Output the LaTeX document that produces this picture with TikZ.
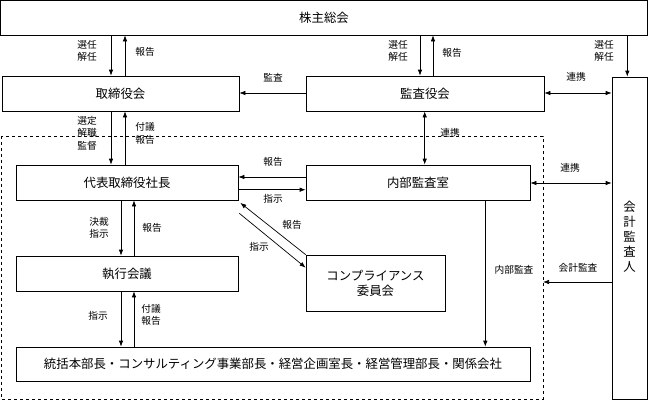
\documentclass[tikz,border=0pt]{standalone}
\usepackage{fontspec}
\setmainfont{Noto Sans CJK JP}
\usetikzlibrary{arrows.meta}
\begin{document}
\begin{tikzpicture}[x=1pt,y=-1pt,
  box/.style={draw=black,line width=0.7pt,inner sep=0pt,font=\fontsize{12.4}{14}\selectfont,align=center},
  arr/.style={line width=0.7pt,-{Latex[length=6pt,width=4.5pt]}},
  darr/.style={line width=0.7pt,{Latex[length=6pt,width=4.5pt]}-{Latex[length=6pt,width=4.5pt]}},
  lbl/.style={inner sep=0pt,font=\fontsize{9.7}{12.5}\selectfont,align=center}]
\useasboundingbox (0,0) rectangle (648,400);
% dashed area
\draw[dashed,line width=0.7pt] (1,136) rectangle (543,399);
% boxes
\node[box,minimum width=647pt,minimum height=34.5pt] (kabu) at (324,17.75) {株主総会};
\node[box,minimum width=237pt,minimum height=35pt] (tori) at (120.5,93.5) {取締役会};
\node[box,minimum width=238pt,minimum height=35pt] (kansa) at (425,93.5) {監査役会};
\node[box,minimum width=35pt,minimum height=322pt] (kaikei) at (629.5,238) {};
\node[box,draw=none,font=\fontsize{12.4}{15}\selectfont] (kaikeit) at (629.5,237) {会\\計\\監\\査\\人};
\node[box,minimum width=222pt,minimum height=35pt] (daihyo) at (127,182.5) {代表取締役社長};
\node[box,minimum width=224pt,minimum height=35pt] (naibu) at (418,182.5) {内部監査室};
\node[box,minimum width=222pt,minimum height=35pt] (shikko) at (127,273.5) {執行会議};
\node[box,minimum width=139pt,minimum height=56pt,font=\fontsize{12.4}{15}\selectfont] (comp) at (375.5,283) {コンプライアンス\\委員会};
\node[box,minimum width=514pt,minimum height=34pt] (tokatsu) at (273,364) {統括本部長・コンサルティング事業部長・経営企画室長・経営管理部長・関係会社};
% helper coordinates
\coordinate (x111) at (111,0);
\coordinate (x125) at (125,0);
\coordinate (x420) at (420,0);
\coordinate (x433) at (433,0);
\coordinate (x627) at (627.3,0);
\coordinate (x425) at (424.7,0);
\coordinate (x121) at (121,0);
\coordinate (x134) at (134,0);
\coordinate (x485) at (485.3,0);
\coordinate (y93) at (0,93);
\coordinate (y177) at (0,177);
\coordinate (y190) at (0,189.7);
\coordinate (y183) at (0,183);
\coordinate (y282) at (0,282);
\coordinate (dashR) at (543,282);
% connectors
\draw[arr] (kabu.south -| x111) -- (tori.north -| x111);
\draw[arr] (tori.north -| x125) -- (kabu.south -| x125);
\draw[arr] (kabu.south -| x420) -- (kansa.north -| x420);
\draw[arr] (kansa.north -| x433) -- (kabu.south -| x433);
\draw[arr] (kabu.south -| x627) -- (kaikei.north -| x627);
\draw[arr] (kansa.west |- y93) -- (tori.east |- y93);
\draw[darr] (kansa.east |- y93) -- (kaikei.west |- y93);
\draw[arr] (tori.south -| x111) -- (daihyo.north -| x111);
\draw[arr] (daihyo.north -| x125) -- (tori.south -| x125);
\draw[darr] (kansa.south -| x425) -- (naibu.north -| x425);
\draw[arr] (naibu.west |- y177) -- (daihyo.east |- y177);
\draw[arr] (daihyo.east |- y190) -- (naibu.west |- y190);
\draw[darr] (naibu.east |- y183) -- (kaikei.west |- y183);
\draw[arr] (daihyo.south -| x121) -- (shikko.north -| x121);
\draw[arr] (shikko.north -| x134) -- (daihyo.south -| x134);
\draw[arr] (shikko.south -| x121) -- (tokatsu.north -| x121);
\draw[arr] (tokatsu.north -| x134) -- (shikko.south -| x134);
\draw[arr] (comp.north west) -- ([shift={(2,2.5)}]daihyo.south east);
\draw[arr] ([shift={(1,13)}]daihyo.south east) -- ([shift={(0,13)}]comp.north west);
\draw[arr] (naibu.south -| x485) -- (tokatsu.north -| x485);
\draw[arr] (kaikei.west |- y282) -- (dashR);
% labels
\node[lbl] (l1) at (87,51) {選任\\解任};
\node[lbl] (l2) at (145,52) {報告};
\node[lbl] (l3) at (398,51) {選任\\解任};
\node[lbl] (l4) at (452,53) {報告};
\node[lbl] (l5) at (604,51) {選任\\解任};
\node[lbl] (l6) at (273,78) {監査};
\node[lbl] (l7) at (576,77) {連携};
\node[lbl] (l8) at (87,133) {選定\\解職\\監督};
\node[lbl] (l9) at (145,133.5) {付議\\報告};
\node[lbl] (l10) at (450,133) {連携};
\node[lbl] (l11) at (273,162) {報告};
\node[lbl] (l12) at (273,199) {指示};
\node[lbl] (l13) at (570,168) {連携};
\node[lbl] (l14) at (99,228) {決裁\\指示};
\node[lbl] (l15) at (152,228) {報告};
\node[lbl] (l16) at (292,225) {報告};
\node[lbl] (l17) at (259,247) {指示};
\node[lbl] (l18) at (98,316) {指示};
\node[lbl] (l19) at (151,315) {付議\\報告};
\node[lbl] (l20) at (514,270) {内部監査};
\node[lbl] (l21) at (578,268) {会計監査};
\end{tikzpicture}
\end{document}
